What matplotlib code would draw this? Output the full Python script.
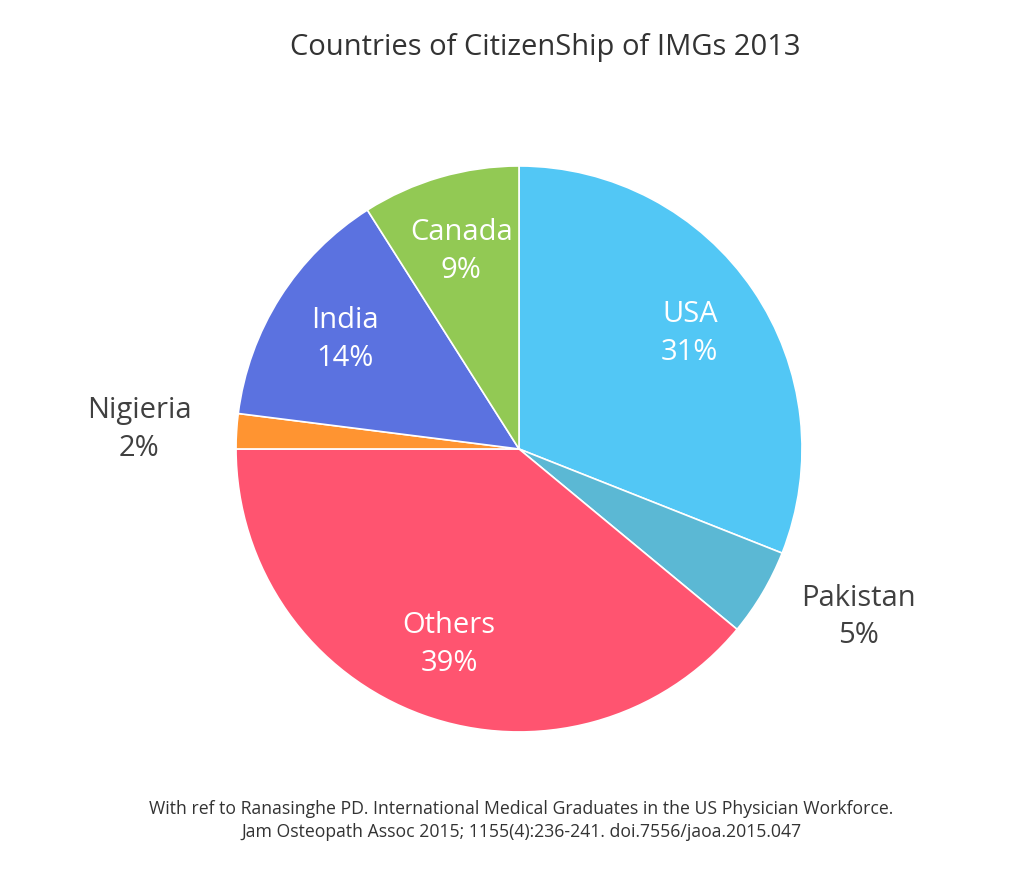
import numpy as np
import matplotlib.pyplot as plt

plt.rcParams['font.family'] = ['Open Sans', 'DejaVu Sans']

countries = ["USA", "Pakistan", "Others", "Nigieria", "India", "Canada"]
shares = [31, 5, 39, 2, 14, 9]
colors = ["#52C7F5", "#5BB8D4", "#FF5470", "#FF9431", "#5B72E0", "#92C954"]
outside = ["Pakistan", "Nigieria"]

fig = plt.figure(figsize=(10.24, 8.7), dpi=100)
ax = fig.add_axes([0.2305, 0.1575, 0.5527, 0.6506])

wedges, _ = ax.pie(shares, colors=colors, startangle=90, counterclock=False,
                   wedgeprops=dict(edgecolor="white", linewidth=1.2))
ax.set_aspect("equal")
ax.set_xlim(-1, 1)
ax.set_ylim(-1, 1)

for w, name, v in zip(wedges, countries, shares):
    mid = np.deg2rad((w.theta1 + w.theta2) / 2)
    x, y = np.cos(mid), np.sin(mid)
    if name in outside:
        ax.text(1.16 * x, 1.16 * y, "%s\n%d%%" % (name, v),
                ha="left" if x > 0 else "right", va="center", multialignment="center",
                fontsize=21, color="#404040", linespacing=1.4)
    else:
        ax.text(0.73 * x, 0.73 * y, "%s\n%d%%" % (name, v),
                ha="center", va="center", fontsize=21, color="white", linespacing=1.4)

fig.text(0.532, 0.945, "Countries of CitizenShip of IMGs 2013", ha="center", va="center",
         fontsize=21, color="#333333")
fig.text(0.509, 0.057, "With ref to Ranasinghe PD. International Medical Graduates in the US Physician Workforce.\n"
         "Jam Osteopath Assoc 2015; 1155(4):236-241. doi.7556/jaoa.2015.047",
         ha="center", va="center", fontsize=12.7, color="#333333", linespacing=1.4)

fig.savefig("out.png", dpi=100, facecolor="white")
